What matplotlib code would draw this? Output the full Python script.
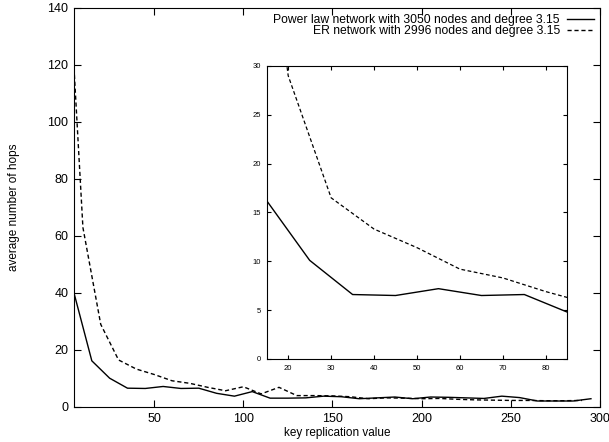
import matplotlib
matplotlib.use("Agg")
import matplotlib.pyplot as plt

plt.rcParams["font.family"] = ["Liberation Sans", "DejaVu Sans"]

# key replication value vs average hops
pl_x = [5, 15, 25, 35, 45, 55, 65, 75, 85, 95, 105, 115, 125, 135, 145,
        155, 165, 175, 185, 195, 205, 215, 225, 235, 245, 255, 265, 275, 285, 295]
pl_y = [40, 16.2, 10.1, 6.6, 6.5, 7.2, 6.5, 6.6, 4.8, 3.8, 5.4, 3.1, 3.1, 3.2, 3.8,
        3.6, 2.9, 3.2, 3.5, 2.9, 3.5, 3.4, 3.2, 3.0, 3.8, 3.3, 2.1, 2.1, 2.1, 2.9]
er_x = [5, 10, 20, 30, 40, 50, 60, 70, 80, 90, 100, 110, 120, 130, 140, 150,
        160, 170, 180, 190, 200, 210, 220, 230, 240, 250, 260, 270, 280, 290]
er_y = [119, 63, 29, 16.5, 13.3, 11.4, 9.2, 8.3, 6.9, 5.7, 7.1, 4.6, 6.9, 4.0, 4.0, 3.9,
        3.6, 2.9, 3.2, 3.1, 2.9, 3.0, 2.7, 2.5, 2.4, 2.3, 2.3, 2.2, 2.2, 2.3]

pl_label = "Power law network with 3050 nodes and degree 3.15"
er_label = "ER network with 2996 nodes and degree 3.15"
dash = (0, (3, 2))

fig = plt.figure(figsize=(6.09, 4.42), dpi=100)
ax = fig.add_axes([0.1215, 0.0792, 0.8635, 0.9028])
ax.plot(pl_x, pl_y, color="black", lw=1.0, label=pl_label)
ax.plot(er_x, er_y, color="black", lw=1.0, linestyle=dash, label=er_label)
ax.set_xlim(5, 300)
ax.set_ylim(0, 140)
ax.set_xticks(range(50, 301, 50))
ax.set_yticks(range(0, 141, 20))
ax.tick_params(direction="in", top=True, right=True, labelsize=9, length=5, pad=4)
ax.set_xlabel("key replication value", fontsize=8.5, labelpad=1.5)
ax.set_ylabel("average number of hops", fontsize=8.5, labelpad=20)
ax.legend(loc="upper right", frameon=False, markerfirst=False, fontsize=8.7,
          handlelength=2.2, handletextpad=0.6, borderaxespad=0.1, labelspacing=-0.1)

# zoomed inset
axi = fig.add_axes([0.438, 0.1878, 0.4935, 0.6629])
axi.plot(pl_x, pl_y, color="black", lw=1.0)
axi.plot(er_x, er_y, color="black", lw=0.9, linestyle=dash)
axi.set_xlim(15, 85)
axi.set_ylim(0, 30)
axi.set_xticks(range(20, 81, 10))
axi.set_yticks(range(0, 31, 5))
axi.tick_params(direction="in", top=True, right=True, labelsize=5.5, length=3, pad=4)

fig.savefig("out.png", dpi=100)
